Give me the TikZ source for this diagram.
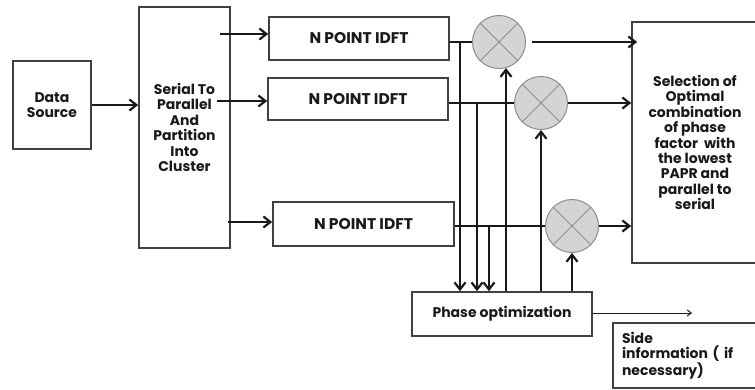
\documentclass[tikz,border=0pt]{standalone}
\usepackage{fontspec}
\setmainfont{Poppins}
\usetikzlibrary{arrows.meta}

\tikzset{
  blk/.style={draw=black!75, line width=1.6pt, align=center, text=black!90,
    font=\fontsize{14}{15.4}\selectfont\bfseries},
  mult/.style={circle, draw=black!45, fill=black!17, line width=1pt,
    minimum size=53pt, inner sep=0pt,
    path picture={\draw[black!45, line width=0.8pt]
      (path picture bounding box.north west) -- (path picture bounding box.south east)
      (path picture bounding box.north east) -- (path picture bounding box.south west);}},
  arr/.style={-{Straight Barb[length=7pt,width=11pt,line width=2.2pt]}, line width=2.1pt, black!90},
  lin/.style={line width=2.1pt, black!90},
  thinarr/.style={-{Straight Barb[length=4pt,width=6pt]}, line width=1pt, black!90},
}

\begin{document}
\begin{tikzpicture}[x=1pt,y=-1pt]
    \useasboundingbox (0,0) rectangle (755,390);
    % blocks
    \node[blk, minimum width=78pt, minimum height=88pt] (src) at (52,105) {Data\\Source};
    \node[blk, minimum width=91pt, minimum height=241pt] (sp) at (184.5,127.5)
        {Serial To\\Parallel\\And\\Partition\\Into\\Cluster};
    \node[blk, font=\fontsize{15.5}{17}\selectfont\bfseries, minimum width=180pt, minimum height=43pt] (idft1) at (359,38.5) {N POINT IDFT};
    \node[blk, font=\fontsize{15.5}{17}\selectfont\bfseries, minimum width=180pt, minimum height=42pt] (idft2) at (358,99) {N POINT IDFT};
    \node[blk, font=\fontsize{15.5}{17}\selectfont\bfseries, minimum width=181pt, minimum height=44pt] (idft3) at (363.5,224) {N POINT IDFT};
    \node[blk, minimum width=126pt, minimum height=241pt] (sel) at (695,142.5)
        {Selection of\\Optimal\\combination\\of phase\\factor~ with\\the lowest\\PAPR and\\parallel to\\serial};
    \node[blk, minimum width=180pt, minimum height=44pt] (ph) at (502,314) {Phase optimization};
    \node[blk, minimum width=147pt, minimum height=65pt, text width=129pt, align=left] (side)
        at (686.5,355.5) {Side\\information ( if\\necessary)};

    % connectors
    \coordinate (o1) at (220,34);
    \coordinate (o2) at (217,101);
    \coordinate (o3) at (228,222);
    \coordinate (t1) at (460,42);
    \coordinate (t2) at (477,103);
    \coordinate (t3) at (489,226);
    \coordinate (se) at (692,313);
    \draw[arr] (src.east) -- (src.east -| sp.west);
    \draw[arr] (o1) -- (o1 -| idft1.west);
    \draw[arr] (o2) -- (o2 -| idft2.west);
    \draw[arr] (o3) -- (o3 -| idft3.west);
    \draw[lin] (idft1.east |- t1) -- (499,42);
    \draw[lin] (idft2.east |- t2) -- (541,103);
    \draw[lin] (idft3.east |- t3) -- (572,226);
    \draw[arr] (t1) -- (t1 |- ph.north);
    \draw[arr] (t2) -- (t2 |- ph.north);
    \draw[arr] (t3) -- (t3 |- ph.north);

    % multipliers
    \node[mult] (m1) at (499,42) {};
    \node[mult] (m2) at (541,103) {};
    \node[mult] (m3) at (572,226) {};

    \draw[arr] (m1.-75 |- ph.north) -- (m1.-75);
    \draw[arr] (m2.south |- ph.north) -- (m2.south);
    \draw[arr] (m3.south |- ph.north) -- (m3.south);
    \draw[arr] ([xshift=6pt]m1.east) -- ([xshift=6pt]m1.east -| sel.west);
    \draw[arr] (m2.east) -- (m2.east -| sel.west);
    \draw[arr] (m3.east) -- (m3.east -| sel.west);
    \draw[thinarr] (ph.east |- se) -- (se);
\end{tikzpicture}
\end{document}
